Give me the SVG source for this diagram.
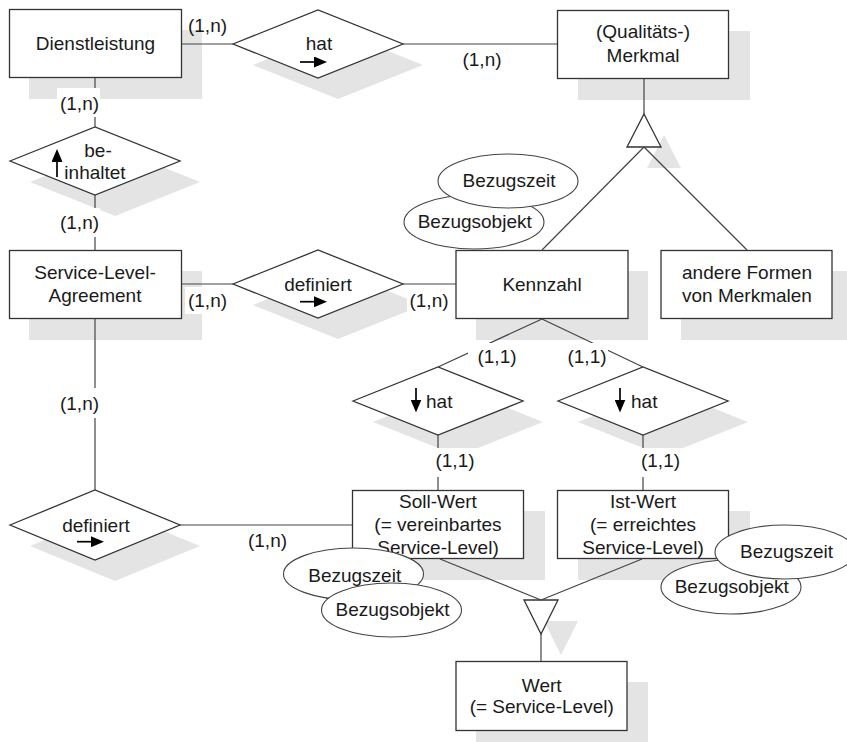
<svg xmlns="http://www.w3.org/2000/svg" width="847" height="742" viewBox="0 0 847 742">
<style>
.sh{fill:#e4e4e4}
.bx{fill:#fff;stroke:#333;stroke-width:1.3}
.el{fill:#fff;stroke:#444;stroke-width:1.1}
.ln{stroke:#444;stroke-width:1.2;fill:none}
.bg{fill:#fff}
.ar{stroke:#000;stroke-width:1.7;marker-end:url(#ah)}
text{font-family:"Liberation Sans",Arial,sans-serif;font-size:19px;fill:#1a1a1a;text-anchor:middle}
.st{text-anchor:start}
</style>
<defs>
<marker id="ah" markerUnits="userSpaceOnUse" markerWidth="14" markerHeight="11" refX="1" refY="5.5" orient="auto"><path d="M0,0 L13,5.5 L0,11 z" fill="#000"/></marker>
</defs>

<g id="dienstleistung">
<rect class="sh" x="29" y="30" width="173" height="69"/>
<rect class="bx" x="9.5" y="9.5" width="172" height="68"/>
<text x="95.5" y="50">Dienstleistung</text>
</g>
<g id="hat1">
<polygon class="sh" points="253,65 338,31 423,65 338,99"/>
<polygon class="bx" points="233,44 318,10 403,44 318,78"/>
<text x="319" y="50">hat</text>
<line class="ar" x1="300" y1="62" x2="315" y2="62"/>
</g>
<g id="merkmal">
<rect class="sh" x="578" y="31" width="172" height="69"/>
<rect class="bx" x="557.5" y="10.5" width="171" height="68"/>
<text x="643" y="38">(Qualitäts-)</text>
<text x="643" y="61.5">Merkmal</text>
</g>
<g id="isa-top">
<polygon class="sh" points="664,135 681,168 647,168"/>
<polygon class="bx" points="644,114 661,147 627,147"/>
</g>
<g id="beinhaltet">
<polygon class="sh" points="30,182 115,148 200,182 115,216"/>
<polygon class="bx" points="10,161 95,127 180,161 95,195"/>
<text x="98" y="156.5">be-</text>
<text x="95" y="179">inhaltet</text>
<line class="ar" x1="57" y1="177" x2="57" y2="161"/>
</g>
<g id="sla">
<rect class="sh" x="29" y="271" width="173" height="69"/>
<rect class="bx" x="9.5" y="250.5" width="172" height="68"/>
<text x="95" y="279.3">Service-Level-</text>
<text x="95" y="302">Agreement</text>
</g>
<g id="definiert1">
<polygon class="sh" points="253,305 338,271 423,305 338,339"/>
<polygon class="bx" points="233,284 318,250 403,284 318,318"/>
<text x="318" y="290.5">definiert</text>
<line class="ar" x1="300" y1="301.7" x2="315" y2="301.7"/>
</g>
<g id="kennzahl">
<rect class="sh" x="476" y="271" width="172" height="69"/>
<rect class="bx" x="456" y="250.5" width="172" height="68"/>
<text x="542" y="290.7">Kennzahl</text>
</g>
<g id="andere-formen">
<rect class="sh" x="681" y="271" width="172" height="69"/>
<rect class="bx" x="661" y="250.5" width="171" height="68"/>
<text x="747" y="279">andere Formen</text>
<text x="747" y="301.7">von Merkmalen</text>
</g>
<g id="kennzahl-bezugsobjekt">
<ellipse class="el" cx="474" cy="222" rx="70" ry="27"/>
<text x="474.7" y="228.3">Bezugsobjekt</text>
</g>
<g id="kennzahl-bezugszeit">
<ellipse class="el" cx="508" cy="181" rx="70" ry="27"/>
<text x="509" y="186.5">Bezugszeit</text>
</g>
<g id="hat2">
<polygon class="sh" points="373,422 458,388 543,422 458,456"/>
<polygon class="bx" points="353,401 438,367 523,401 438,435"/>
<text class="st" x="426" y="408.3">hat</text>
<line class="ar" x1="416" y1="388" x2="416" y2="400.5"/>
</g>
<g id="hat3">
<polygon class="sh" points="578,422 663,388 748,422 663,456"/>
<polygon class="bx" points="558,401 643,367 728,401 643,435"/>
<text class="st" x="631" y="408.3">hat</text>
<line class="ar" x1="620" y1="388" x2="620" y2="400.5"/>
</g>
<g id="definiert2">
<polygon class="sh" points="30,546 115,511 200,546 115,581"/>
<polygon class="bx" points="10,525 95,490 180,525 95,560"/>
<text x="96" y="531.5">definiert</text>
<line class="ar" x1="77" y1="541.7" x2="92" y2="541.7"/>
</g>
<g id="soll-wert">
<rect class="sh" x="373" y="511" width="172" height="69"/>
<rect class="bx" x="352.5" y="490.5" width="171" height="68"/>
<text x="438" y="508.3">Soll-Wert</text>
<text x="438" y="531">(= vereinbartes</text>
<text x="438" y="553.5">Service-Level)</text>
</g>
<g id="ist-wert">
<rect class="sh" x="578" y="511" width="172" height="69"/>
<rect class="bx" x="557.5" y="490.5" width="171" height="68"/>
<text x="643" y="508.3">Ist-Wert</text>
<text x="643" y="531">(= erreichtes</text>
<text x="643" y="553.5">Service-Level)</text>
</g>
<g id="soll-bezugszeit">
<ellipse class="el" cx="353.5" cy="574" rx="70" ry="26"/>
<text x="354.7" y="582">Bezugszeit</text>
</g>
<g id="soll-bezugsobjekt">
<ellipse class="el" cx="391.5" cy="610" rx="70" ry="27"/>
<text x="392.6" y="615.7">Bezugsobjekt</text>
</g>
<g id="ist-bezugsobjekt">
<ellipse class="el" cx="731" cy="587" rx="70" ry="27"/>
<text x="731.7" y="592.7">Bezugsobjekt</text>
</g>
<g id="ist-bezugszeit">
<ellipse class="el" cx="785" cy="552" rx="70" ry="27"/>
<text x="786.6" y="557.7">Bezugszeit</text>
</g>
<g id="isa-bottom">
<polygon class="sh" points="544,621 578,621 561,655"/>
<polygon class="bx" points="524,600 558,600 541,634"/>
</g>
<g id="wert">
<rect class="sh" x="476" y="682" width="172" height="70"/>
<rect class="bx" x="456" y="661.5" width="171" height="69"/>
<text x="541.7" y="691.7">Wert</text>
<text x="541.7" y="713">(= Service-Level)</text>
</g>

<g id="connectors">
<line class="ln" x1="182" y1="44" x2="233" y2="44"/>
<line class="ln" x1="403" y1="44" x2="557" y2="44"/>
<line class="ln" x1="644" y1="79" x2="644" y2="114"/>
<line class="ln" x1="644" y1="147" x2="542" y2="250"/>
<line class="ln" x1="644" y1="147" x2="747" y2="250"/>
<line class="ln" x1="95" y1="78" x2="95" y2="127"/>
<line class="ln" x1="95" y1="195" x2="95" y2="250"/>
<line class="ln" x1="182" y1="284" x2="233" y2="284"/>
<line class="ln" x1="403" y1="284" x2="456" y2="284"/>
<line class="ln" x1="542" y1="319" x2="438" y2="367"/>
<line class="ln" x1="542" y1="319" x2="643" y2="367"/>
<line class="ln" x1="438" y1="435" x2="438" y2="490"/>
<line class="ln" x1="643" y1="435" x2="643" y2="490"/>
<line class="ln" x1="95" y1="319" x2="95" y2="490"/>
<line class="ln" x1="180" y1="525" x2="352" y2="525"/>
<line class="ln" x1="440" y1="559" x2="541" y2="600"/>
<line class="ln" x1="642" y1="559" x2="541" y2="600"/>
<line class="ln" x1="541" y1="634" x2="541" y2="661"/>

<rect class="bg" x="57" y="88" width="43" height="29"/>
<rect class="bg" x="57" y="208" width="43" height="29"/>
<rect class="bg" x="185" y="287" width="45" height="27"/>
<rect class="bg" x="407" y="290" width="47" height="24"/>
<rect class="bg" x="57" y="388" width="43" height="30"/>
<rect class="bg" x="468" y="343" width="52" height="28"/>
<rect class="bg" x="563" y="343" width="45" height="28"/>
<rect class="bg" x="432" y="448" width="46" height="29"/>
<rect class="bg" x="638" y="448" width="46" height="29"/>

<text x="207.5" y="31.5">(1,n)</text>
<text x="482" y="65.8">(1,n)</text>
<text x="79.5" y="109.8">(1,n)</text>
<text x="79.5" y="229">(1,n)</text>
<text x="207.5" y="306.5">(1,n)</text>
<text x="429" y="306.5">(1,n)</text>
<text x="79.5" y="409.5">(1,n)</text>
<text x="267.5" y="546.5">(1,n)</text>
<text x="497" y="363">(1,1)</text>
<text x="587" y="363">(1,1)</text>
<text x="455" y="467">(1,1)</text>
<text x="660.5" y="467">(1,1)</text>
</g>
</svg>
